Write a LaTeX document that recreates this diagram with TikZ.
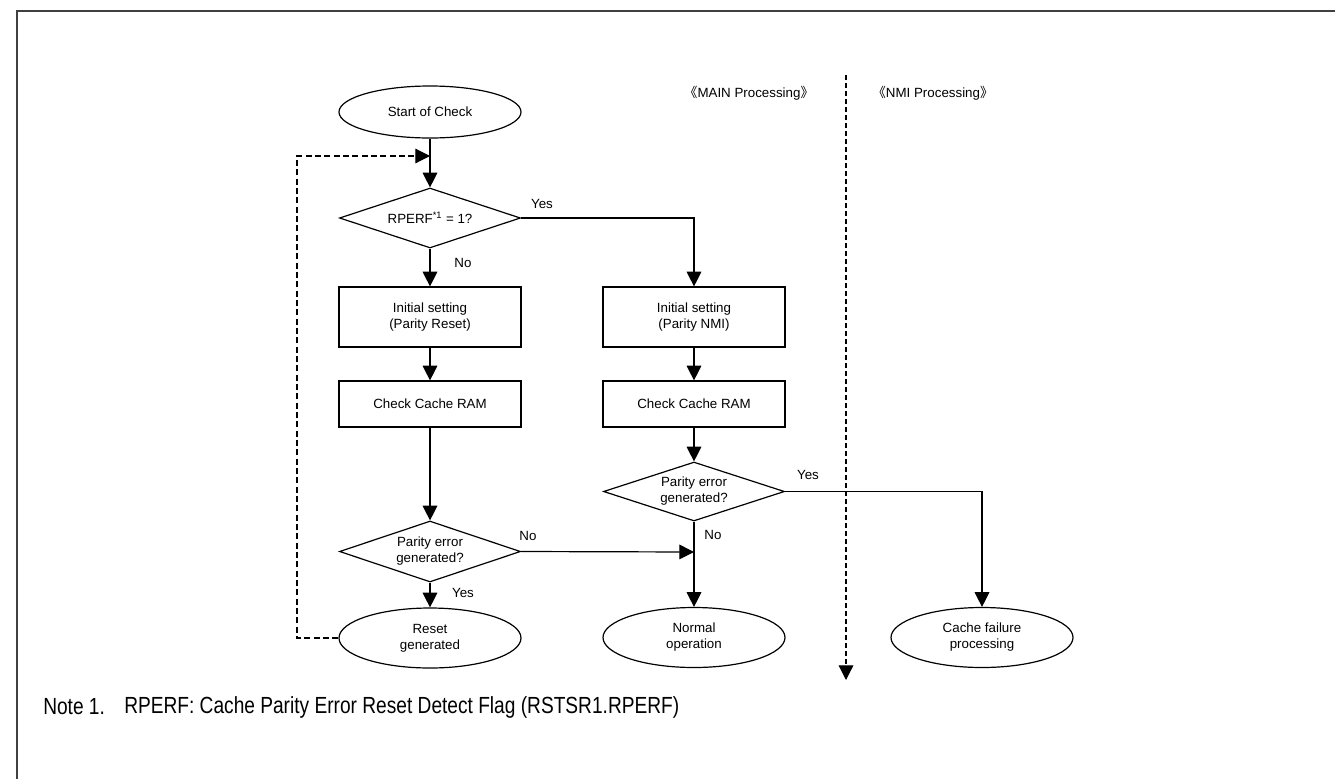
\documentclass[tikz,border=0pt]{standalone}
\usepackage{fontspec}
\setmainfont{Liberation Sans}
\newfontfamily\cjk{Noto Sans CJK SC}
\newfontfamily\narrowfont[FakeStretch=0.82]{Liberation Sans}
\usetikzlibrary{shapes.geometric,arrows.meta}
\begin{document}
\begin{tikzpicture}[x=0.75pt,y=-0.75pt,
  every node/.style={font=\fontsize{10}{12}\selectfont},
  line/.style={line width=0.9pt},
  arr/.style={line width=0.9pt,-{Triangle[length=11pt,width=11pt]}},
  dsh/.style={line width=0.9pt,dash pattern=on 4.5pt off 2.5pt},
  term/.style={draw,line width=0.9pt,ellipse,inner sep=0pt,minimum width=136.5pt,minimum height=45pt,align=center},
  proc/.style={draw,line width=0.9pt,rectangle,inner sep=0pt,minimum width=136.5pt,minimum height=45pt,align=center},
  dec/.style={draw,line width=0.9pt,diamond,aspect=3,inner sep=0pt,minimum width=135.75pt,minimum height=45pt,align=center},
  lbl/.style={inner sep=0pt},
  notestyle/.style={inner sep=0pt,font=\narrowfont\fontsize{17.5}{20}\selectfont}]
\useasboundingbox (0,0) rectangle (1335,779);
\draw[line width=1.2pt,color=black!75] (1335,11) -- (17,11) -- (17,779);

% headings and divider
\node[lbl] (hmain) at (749,93) {{\cjk 《}MAIN Processing{\cjk 》}};
\node[lbl] (hnmi) at (933,93) {{\cjk 《}NMI Processing{\cjk 》}};
\coordinate (dvtop) at (846,75);
\coordinate (dvbot) at (846,680);
\draw[line width=0.9pt,dash pattern=on 3.5pt off 2.5pt,-{Triangle[length=11pt,width=11pt]}] (dvtop) -- (dvbot);

% nodes
\node[term,minimum height=39pt] (start) at (430,112) {Start of Check};
\node[dec] (d1) at (430,218) {RPERF\textsuperscript{*1} = 1?};
\node[proc] (b1) at (430,317) {Initial setting\\(Parity Reset)};
\node[proc,minimum height=34.5pt] (c1) at (430,404) {Check Cache RAM};
\node[dec,minimum height=45.75pt] (d2) at (430,551.5) {Parity error\\generated?};
\node[term] (reset) at (430,638) {Reset\\generated};

\node[proc] (b2) at (694,317) {Initial setting\\(Parity NMI)};
\node[proc,minimum height=34.5pt] (c2) at (694,404) {Check Cache RAM};
\node[dec,minimum height=44.25pt] (d3) at (694,491.5) {Parity error\\generated?};
\node[term] (normal) at (694,637.5) {Normal\\operation};
\node[term] (fail) at (982,637.5) {Cache failure\\processing};

% connectors
\coordinate (loopin) at (430,156);
\coordinate (j1) at (694,552);
\draw[arr] (start) -- (d1);
\draw[arr] (d1) -- (b1);
\draw[arr] (b1) -- (c1);
\draw[arr] (c1) -- (d2);
\draw[arr] (d2) -- (reset);
\draw[arr] (d1.east) -| (b2.north);
\draw[arr] (b2) -- (c2);
\draw[arr] (c2) -- (d3);
\draw[arr] (d3) -- (normal);
\draw[arr] (d2.east) -- (j1);
\draw[arr] (d3.east) -| (fail.north);
\draw[dsh,-{Triangle[length=11pt,width=11pt]}] (reset.west) -- (297,638) -- (297,156) -- (loopin);

% labels
\node[lbl] (y1) at (542,204) {Yes};
\node[lbl] (n1) at (463,263) {No};
\node[lbl] (y2) at (808,475) {Yes};
\node[lbl] (n2) at (713,535) {No};
\node[lbl] (n3) at (528,536) {No};
\node[lbl] (y3) at (463,593) {Yes};

% note
\node[notestyle,anchor=west] (note1) at (43,707) {Note 1.};
\node[notestyle,anchor=west] (note2) at (124,707) {RPERF: Cache Parity Error Reset Detect Flag (RSTSR1.RPERF)};
\end{tikzpicture}
\end{document}
